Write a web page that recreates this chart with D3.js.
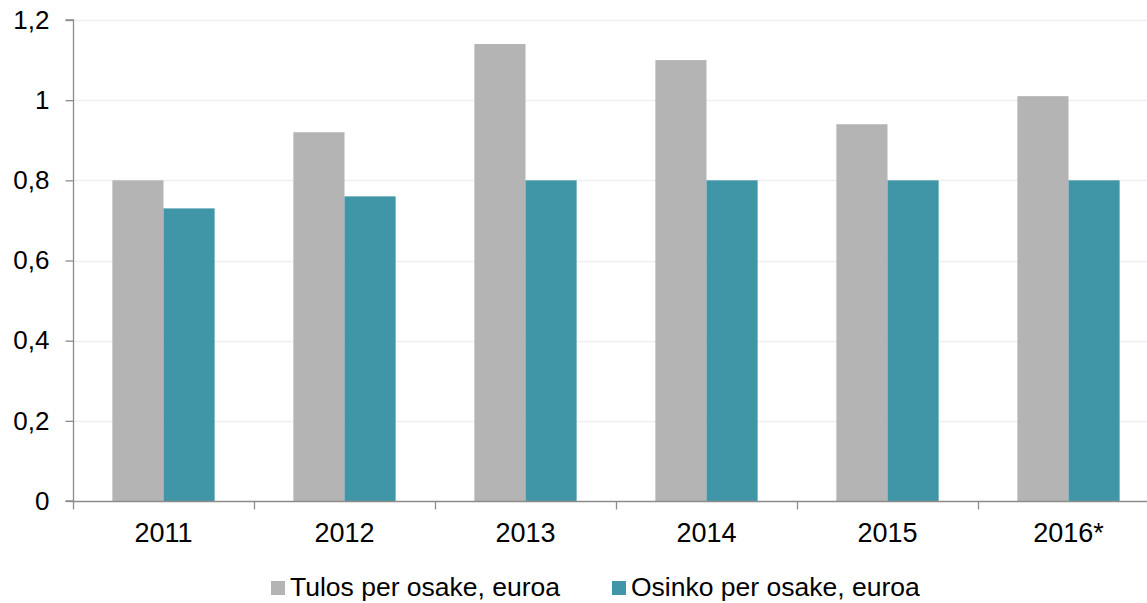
<!DOCTYPE html>
<html>
<head>
<meta charset="utf-8">
<script src="https://cdn.jsdelivr.net/npm/d3@7"></script>
<style>
  body { margin: 0; background: #fff; }
  svg { display: block; font-family: "Liberation Sans", Arial, sans-serif; }
</style>
</head>
<body>
<svg id="chart" width="1147" height="603"></svg>
<script>
var years = ["2011", "2012", "2013", "2014", "2015", "2016*"];
var tulos = [0.80, 0.92, 1.14, 1.10, 0.94, 1.01];
var osinko = [0.73, 0.76, 0.80, 0.80, 0.80, 0.80];
var seriesNames = ["Tulos per osake, euroa", "Osinko per osake, euroa"];
var yTicks = [0, 0.2, 0.4, 0.6, 0.8, 1.0, 1.2];

var colors = ["#b4b4b4", "#4096a7"];
var axisColor = "#8c8c8c";
var svg = d3.select("#chart");

// plot area runs a bit past the right edge, like the original
var x = d3.scaleBand().domain(years).range([73, 1159]);
var inner = d3.scaleBand().domain([0, 1]).range([0, x.bandwidth()]).paddingInner(0).paddingOuter(0.77);
var y = d3.scaleLinear().domain([0, 1.2]).range([501, 20]);

// gridlines
svg.append("g")
  .selectAll("line")
  .data(yTicks.slice(1))
  .enter()
  .append("line")
  .attr("x1", 73)
  .attr("x2", 1147)
  .attr("y1", function (d) { return Math.round(y(d)) + 0.5; })
  .attr("y2", function (d) { return Math.round(y(d)) + 0.5; })
  .attr("stroke", "#efefef")
  .attr("stroke-width", 1.5);

// bars
var groups = svg.append("g")
  .selectAll("g")
  .data(years)
  .enter()
  .append("g")
  .attr("transform", function (d) { return "translate(" + x(d) + ",0)"; });

groups.selectAll("rect")
  .data(function (d, i) { return [tulos[i], osinko[i]]; })
  .enter()
  .append("rect")
  .attr("x", function (d, j) { return inner(j); })
  .attr("width", inner.bandwidth())
  .attr("y", function (d) { return y(d); })
  .attr("height", function (d) { return y(0) - y(d); })
  .attr("fill", function (d, j) { return colors[j]; });

// y axis
var yAxis = d3.axisLeft(y)
  .tickValues(yTicks)
  .tickSize(8)
  .tickPadding(16)
  .tickFormat(function (d) { return String(+d.toFixed(1)).replace(".", ","); });

var yg = svg.append("g").attr("transform", "translate(73.5,0)").call(yAxis);
yg.select(".domain").attr("stroke", axisColor).attr("stroke-width", 1.3).attr("d", "M-8," + y(1.2) + "H0V" + y(0) + "H-8");
yg.selectAll(".tick line").attr("stroke", axisColor).attr("stroke-width", 1.3);
yg.selectAll(".tick text")
  .attr("font-size", "26px")
  .attr("fill", "#000")
  .attr("font-family", "Liberation Sans, Arial, sans-serif");

// x axis
var xAxis = d3.axisBottom(x).tickSize(0).tickPadding(21);
var xg = svg.append("g").attr("transform", "translate(0,501.5)").call(xAxis);
xg.select(".domain").attr("stroke", axisColor).attr("stroke-width", 1.3).attr("d", "M73,0H1159");
xg.selectAll(".tick text")
  .attr("font-size", "27px")
  .attr("fill", "#000")
  .attr("font-family", "Liberation Sans, Arial, sans-serif");

// boundary ticks between categories
xg.append("g")
  .selectAll("line")
  .data(years)
  .enter()
  .append("line")
  .attr("x1", function (d) { return Math.round(x(d)) + 0.5; })
  .attr("x2", function (d) { return Math.round(x(d)) + 0.5; })
  .attr("y1", 0)
  .attr("y2", 8)
  .attr("stroke", axisColor)
  .attr("stroke-width", 1.3);

// legend
var legendX = [271, 612];
var legend = svg.append("g")
  .selectAll("g")
  .data(seriesNames)
  .enter()
  .append("g")
  .attr("transform", function (d, i) { return "translate(" + legendX[i] + ",581)"; });

legend.append("rect")
  .attr("width", 14)
  .attr("height", 14)
  .attr("fill", function (d, i) { return colors[i]; });

legend.append("text")
  .attr("x", 19)
  .attr("y", 15)
  .attr("font-size", "26.5px")
  .attr("fill", "#000")
  .text(function (d) { return d; });
</script>
</body>
</html>
